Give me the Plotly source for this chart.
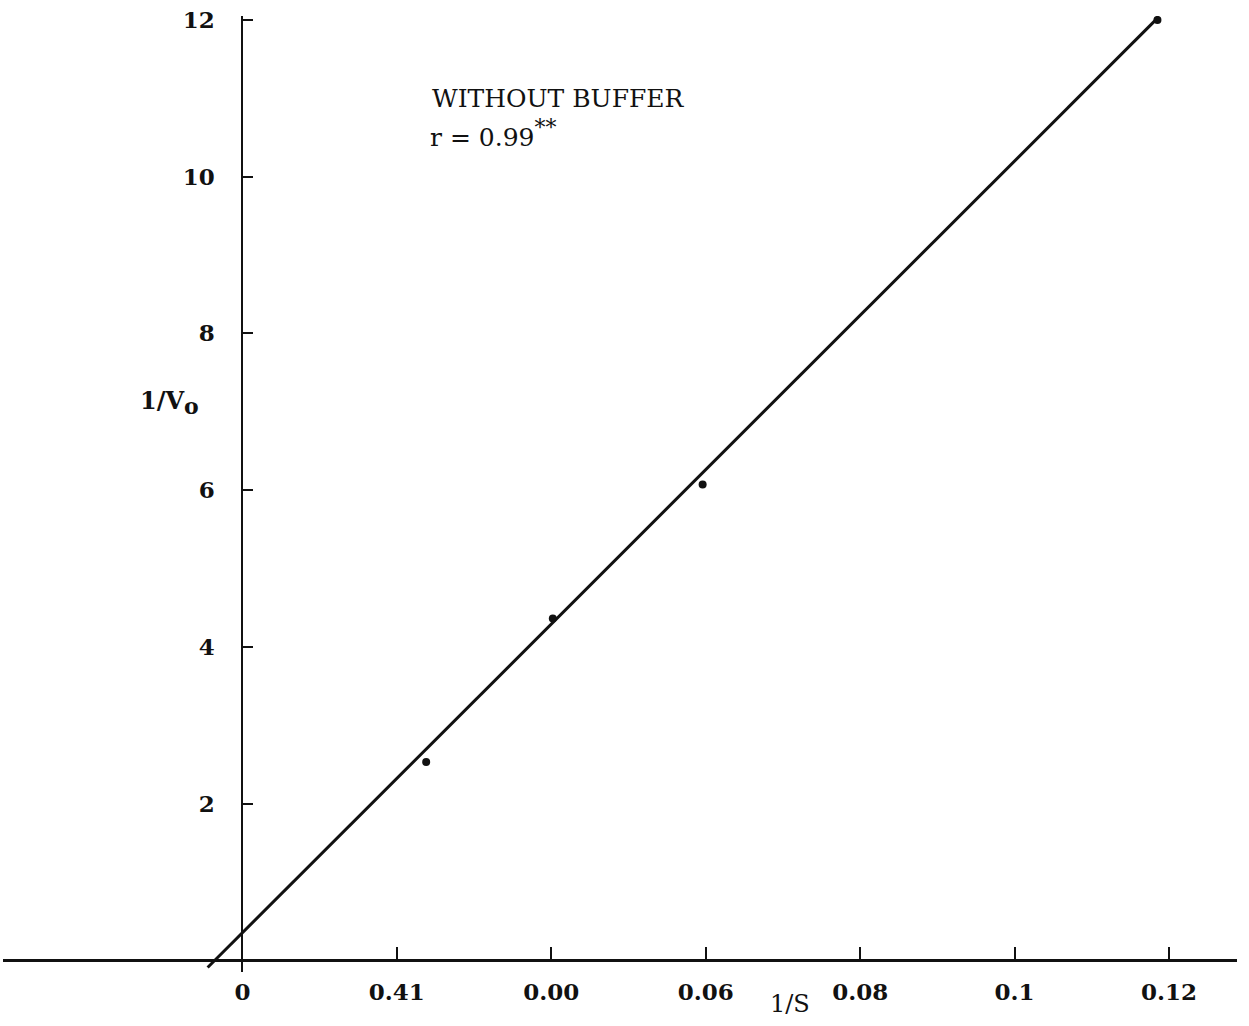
import plotly.graph_objects as go

# Lineweaver-Burk data: reciprocal substrate vs reciprocal initial velocity
inv_s = [0.0238, 0.0402, 0.0596, 0.1185]
inv_v0 = [2.53, 4.36, 6.07, 12.0]

# regression line parameters and the span it is drawn over
fit_intercept = 0.35
fit_slope = 98.5
fit_x_span = [-0.0045, 0.1186]

x_tick_vals = [0, 0.02, 0.04, 0.06, 0.08, 0.10, 0.12]
x_tick_text = ["0", "0.41", "0.00", "0.06", "0.08", "0.1", "0.12"]
y_tick_vals = [2, 4, 6, 8, 10, 12]
y_tick_text = ["2", "4", "6", "8", "10", "12"]

x_range = [-0.0310, 0.1288]
y_range = [-0.15, 12.05]

ink = "#111111"

fit_y = [fit_intercept + fit_slope * x for x in fit_x_span]

fig = go.Figure()
fig.add_trace(go.Scatter(
    x=fit_x_span, y=fit_y, mode="lines",
    line=dict(color=ink, width=3), hoverinfo="skip", showlegend=False,
))
fig.add_trace(go.Scatter(
    x=inv_s, y=inv_v0, mode="markers",
    marker=dict(color=ink, size=8), showlegend=False,
))

# axes cross at the origin
x_axis_pos = (0 - y_range[0]) / (y_range[1] - y_range[0])
y_axis_pos = (0 - x_range[0]) / (x_range[1] - x_range[0])

label_font = dict(family="DejaVu Serif", size=23, color=ink, weight="bold")

fig.update_layout(
    width=1249, height=1026,
    margin=dict(l=3, r=12, t=16, b=54),
    paper_bgcolor="white", plot_bgcolor="white",
    xaxis=dict(
        range=x_range, anchor="free", position=x_axis_pos,
        showgrid=False, zeroline=False,
        showline=True, linecolor=ink, linewidth=3,
        ticks="inside", ticklen=12, tickwidth=2, tickcolor=ink,
        tickvals=x_tick_vals, ticktext=x_tick_text,
        tickfont=label_font, ticklabelstandoff=10,
    ),
    yaxis=dict(
        range=y_range, anchor="free", position=y_axis_pos,
        showgrid=False, zeroline=False,
        showline=True, linecolor=ink, linewidth=2,
        ticks="inside", ticklen=10, tickwidth=2, tickcolor=ink,
        tickvals=y_tick_vals, ticktext=y_tick_text,
        tickfont=label_font, ticklabelstandoff=22,
    ),
    annotations=[
        dict(text="WITHOUT BUFFER", x=0.0243, y=11.0, xref="x", yref="y",
             xanchor="left", yanchor="middle", showarrow=False,
             font=dict(family="DejaVu Serif", size=25, color=ink)),
        dict(text="r = 0.99<sup><span style='font-size:22px'>**</span></sup>",
             x=0.0240, y=10.55, xref="x", yref="y",
             xanchor="left", yanchor="middle", showarrow=False,
             font=dict(family="DejaVu Serif", size=25, color=ink)),
        dict(text="1/V<sub><span style='font-size:22px'>o</span></sub>",
             x=-0.0094, y=7.12, xref="x", yref="y",
             xanchor="center", yanchor="middle", showarrow=False,
             font=dict(family="DejaVu Serif", size=24, color=ink, weight="bold")),
        dict(text="1/S", x=0.0709, y=-0.033, xref="x", yref="paper",
             xanchor="center", yanchor="middle", showarrow=False,
             font=dict(family="DejaVu Serif", size=24, color=ink)),
    ],
)

fig.write_html("out.html")
